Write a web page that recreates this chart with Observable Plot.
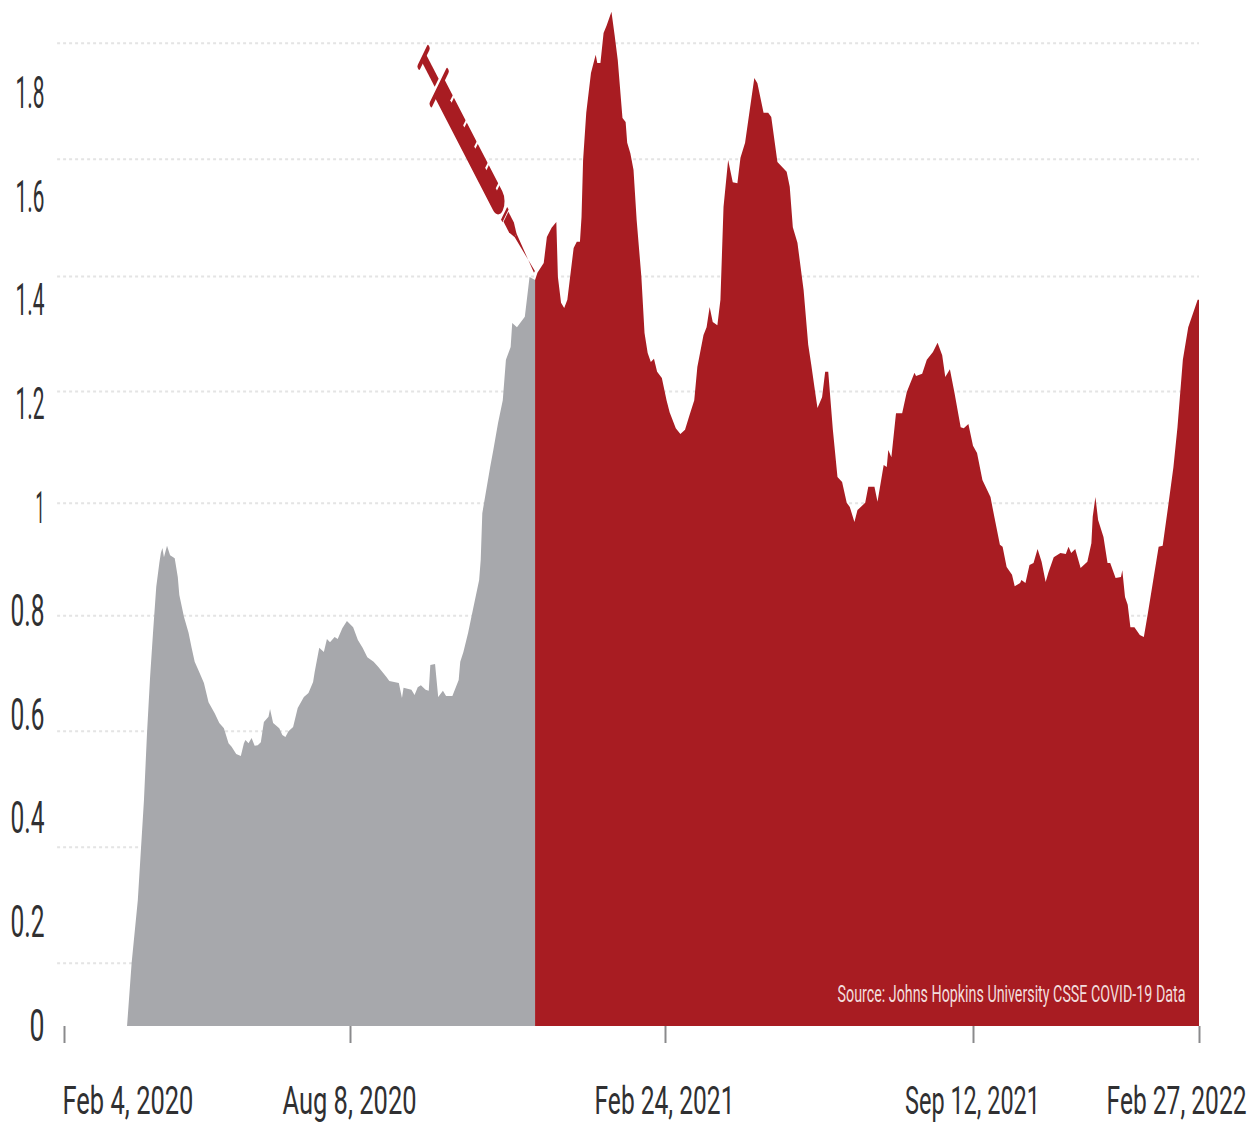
<!DOCTYPE html>
<html>
<head>
<meta charset="utf-8">
<script src="https://cdn.jsdelivr.net/npm/d3@7"></script>
<script src="https://cdn.jsdelivr.net/npm/@observablehq/plot@0.6"></script>
<style>
  html, body { margin: 0; padding: 0; background: #fff; }
  svg { display: block; }
</style>
</head>
<body>
<div id="chart"></div>
<script>
// Days since Feb 4, 2020
const tickDays = [0, 186, 386, 586, 754];
const tickLabels = ["Feb 4, 2020", "Aug 8, 2020", "Feb 24, 2021", "Sep 12, 2021", "Feb 27, 2022"];
const yTicks = [0, 0.2, 0.4, 0.6, 0.8, 1, 1.2, 1.4, 1.6, 1.8];
const gridValues = [0.122, 0.346, 0.57, 0.793, 1.01, 1.226, 1.448, 1.674, 1.898];

const greyDays = [41,44,48,52,54,56,58,60,62,63,64,65,67,69,72,74,75,78,81,83,85,88,91,94,98,101,104,107,109,112,115,117,118,120,122,124,126,128,130,133,134,136,140,142,144,146,149,152,156,159,162,163,166,169,171,173,176,178,181,184,188,191,194,197,201,204,209,211,217,219,220,225,227,229,231,234,236,237,240,242,245,247,251,255,256,258,261,264,268,269,270,275,277,280,283,285,288,289,292,297,300,303.5];
const greyValues = [0,0.122,0.243,0.436,0.566,0.674,0.764,0.848,0.894,0.913,0.923,0.905,0.927,0.909,0.903,0.867,0.832,0.79,0.759,0.73,0.703,0.683,0.662,0.625,0.604,0.585,0.575,0.546,0.539,0.525,0.521,0.546,0.552,0.546,0.556,0.541,0.542,0.548,0.587,0.597,0.612,0.585,0.575,0.562,0.558,0.569,0.577,0.614,0.635,0.643,0.664,0.683,0.73,0.722,0.747,0.741,0.751,0.747,0.768,0.782,0.77,0.745,0.73,0.712,0.703,0.693,0.674,0.666,0.662,0.633,0.653,0.649,0.639,0.654,0.658,0.649,0.647,0.697,0.699,0.635,0.647,0.637,0.637,0.668,0.703,0.722,0.759,0.803,0.861,0.9,0.99,1.079,1.112,1.164,1.208,1.286,1.311,1.357,1.349,1.369,1.446,1.44];

const redDays = [303.5,305,309,311,314,317,318,320,322,324,328,330,332,333,334,336,339,342,343,345,347,349,352,354,356,359,361,362,364,366,368,371,373,375,377,379,381,384,387,389,393,396,399,402,405,407,411,413,415,417,420,422,424,427,430,433,435,438,441,444,446,450,453,455,459,465,467,469,472,476,479,481,483,485,488,490,492,495,498,501,504,506,509,511,516,518,522,524,528,530,531,533,536,540,543,548,549,553,556,560,563,566,568,571,574,578,580,583,586,589,593,599,602,606,608,611,615,617,621,622,625,628,631,634,637,640,642,646,651,655,657,659,662,666,671,674,675,677,679,683,686,688,692,696,697,699,701,703,706,710,713,716,720,724,727,731,735,738,742,746,753,754];
const redValues = [1.44,1.454,1.473,1.523,1.541,1.552,1.446,1.396,1.386,1.402,1.502,1.514,1.514,1.562,1.672,1.763,1.84,1.875,1.859,1.859,1.917,1.932,1.958,1.913,1.865,1.753,1.745,1.705,1.685,1.653,1.556,1.446,1.338,1.299,1.282,1.288,1.263,1.251,1.208,1.185,1.154,1.143,1.151,1.18,1.208,1.272,1.334,1.349,1.388,1.359,1.353,1.402,1.581,1.672,1.629,1.627,1.676,1.705,1.768,1.83,1.82,1.763,1.763,1.755,1.668,1.649,1.62,1.542,1.512,1.421,1.315,1.276,1.234,1.193,1.214,1.263,1.263,1.151,1.06,1.05,1.01,1.002,0.973,0.996,1.01,1.041,1.041,1.012,1.083,1.079,1.112,1.098,1.183,1.183,1.224,1.261,1.255,1.259,1.286,1.301,1.319,1.295,1.253,1.268,1.222,1.156,1.154,1.162,1.12,1.106,1.054,1.021,0.981,0.929,0.925,0.886,0.871,0.849,0.855,0.861,0.855,0.89,0.894,0.921,0.896,0.857,0.875,0.905,0.913,0.911,0.925,0.913,0.921,0.884,0.896,0.932,0.983,1.021,0.977,0.944,0.894,0.894,0.865,0.867,0.88,0.828,0.813,0.77,0.77,0.755,0.751,0.797,0.861,0.925,0.927,1.002,1.079,1.156,1.286,1.349,1.402,1.402];

const source = "Source: Johns Hopkins University CSSE COVID-19 Data";
const RED = "#a81c22", GREY = "#a7a8ac", INK = "#303032";
const FONT = "Roboto, Lato, sans-serif";

// Syringe icon, its needle tip resting on the first red data point; the picture
// is squeezed sideways, so the icon's axes are sheared to match it.
function syringe(index, scales) {
  const g = d3.create("svg:g")
    .attr("transform", `matrix(0.439,-0.902,0.459,0.888,${scales.x(redDays[1]) - 3},${scales.y(redValues[1]) - 1})`)
    .attr("fill", RED);
  g.append("path").attr("d", "M-1,0 L2,-41 L-2,-41 L1,0 Z");                          // needle
  g.append("path").attr("d", "M-5.5,-62 L5.5,-62 L5.5,-50 L2,-41 L-2,-41 L-5.5,-50 Z"); // hub
  g.append("rect").attr("x", -7).attr("y", -66).attr("width", 14).attr("height", 3);   // collar
  g.append("path").attr("d", "M-10.5,-206 L10.5,-206 L10.5,-80 A10.5,11 0 0 1 -10.5,-80 Z"); // barrel
  for (const u of [89, 112, 136, 160, 188]) {
    g.append("rect").attr("x", 5).attr("y", -u).attr("width", 6.5).attr("height", 2.6).attr("fill", "#fff");
  }
  g.append("rect").attr("x", -20.5).attr("y", -210).attr("width", 41).attr("height", 5).attr("rx", 2); // flange
  g.append("rect").attr("x", -4.5).attr("y", -240).attr("width", 9).attr("height", 27);                // rod
  g.append("rect").attr("x", -12.5).attr("y", -244).attr("width", 25).attr("height", 5).attr("rx", 2); // thumb
  return g.node();
}

const labelStyle = {fontFamily: FONT, fontSize: 39, fontWeight: 400, fill: INK, lineAnchor: "middle", frameAnchor: "bottom"};

const plot = Plot.plot({
  width: 1259,
  height: 1122,
  marginTop: 0,
  marginLeft: 64,
  marginRight: 60,
  marginBottom: 96,
  style: {fontFamily: FONT, background: "#fff", overflow: "visible"},
  x: {type: "linear", domain: tickDays, range: [64, 350, 665, 973, 1199]},
  y: {type: "linear", domain: [0, 1026 / 518]},
  marks: [
    Plot.ruleY(gridValues, {x1: -4.5, x2: 754, stroke: "#e4e4e4", strokeWidth: 2, strokeDasharray: "3 3"}),
    Plot.areaY(greyDays, {x: d => d, y: (d, i) => greyValues[i], fill: GREY}),
    Plot.areaY(redDays, {x: d => d, y: (d, i) => redValues[i], fill: RED}),
    Plot.axisX({ticks: tickDays, tickSize: 17, tickFormat: () => "", stroke: "#8a8a8c", strokeWidth: 2, label: null}),
    Plot.axisY({ticks: yTicks, tickSize: 0, tickPadding: 20, tickFormat: d => String(d), fontSize: 44, fontWeight: 400, fill: INK, label: null, className: "ylab"}),
    Plot.text(tickDays.slice(0, 1), {...labelStyle, x: d => d, text: () => tickLabels[0], textAnchor: "start", dx: -2, dy: 75, className: "xlab"}),
    Plot.text(tickDays.slice(1, 4), {...labelStyle, x: d => d, text: (d, i) => tickLabels[i + 1], textAnchor: "middle", dx: -1, dy: 75, className: "xlab"}),
    Plot.text(tickDays.slice(4), {...labelStyle, x: d => d, text: () => tickLabels[4], textAnchor: "end", dx: 47, dy: 75, className: "xlab"}),
    Plot.text([source], {frameAnchor: "bottom-right", text: d => d, textAnchor: "end", lineAnchor: "middle", dx: -14, dy: -32, fontFamily: FONT, fontSize: 24, fill: "#f2dcdc", className: "srclab"}),
    syringe
  ]
});
document.getElementById("chart").append(plot);

// The reference's lettering is tall and condensed: squeeze each text horizontally
// about its own anchor to the reference's widths.
function squeeze(selector, widthOf) {
  plot.querySelectorAll(selector).forEach(t => {
    const w = widthOf(t.textContent);
    const natural = t.getComputedTextLength();
    if (!w || !natural) return;
    const x = +t.getAttribute("x") || 0;
    const before = t.getAttribute("transform") || "";
    t.setAttribute("transform", `${before} translate(${x},0) scale(${w / natural},1) translate(${-x},0)`);
  });
}
const xWidths = [131, 134, 140, 135, 140];
squeeze(".xlab text", s => xWidths[tickLabels.indexOf(s)]);
squeeze(".ylab text", s => s === "0" ? 15 : s === "1" ? 9 : s.startsWith("1") ? 29 : 34);
squeeze(".srclab text", () => 348);
</script>
</body>
</html>
